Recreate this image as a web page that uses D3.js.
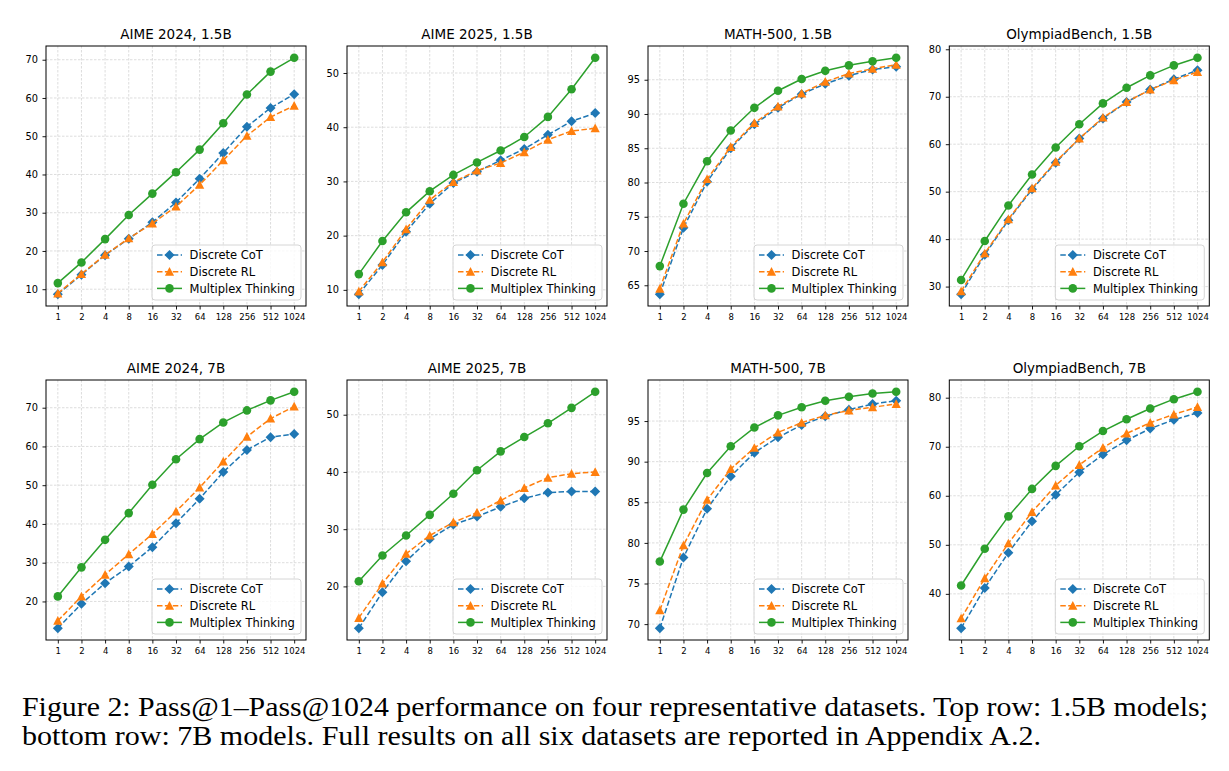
<!DOCTYPE html>
<html>
<head>
<meta charset="utf-8">
<script src="https://cdn.jsdelivr.net/npm/d3@7"></script>
<style>
body { margin: 0; background: #fff; }
svg text { font-family: "DejaVu Sans", sans-serif; fill: #000; }
</style>
</head>
<body>
<svg id="fig" width="1229" height="771"></svg>
<script>
// pass@k budgets on the x axis
const kLabels = ["1", "2", "4", "8", "16", "32", "64", "128", "256", "512", "1024"];
const methods = ["Discrete CoT", "Discrete RL", "Multiplex Thinking"];
const colors = ["#1f77b4", "#ff7f0e", "#2ca02c"];
const titles = ["AIME 2024, 1.5B", "AIME 2025, 1.5B", "MATH-500, 1.5B", "OlympiadBench, 1.5B",
                "AIME 2024, 7B", "AIME 2025, 7B", "MATH-500, 7B", "OlympiadBench, 7B"];

// top row, 1.5B
const aime24_15b_cot = [8.7, 13.8, 18.9, 23.2, 27.5, 32.7, 38.9, 45.6, 52.5, 57.4, 61.0];
const aime24_15b_rl  = [8.9, 14.0, 19.0, 23.3, 27.2, 31.6, 37.3, 43.7, 50.1, 55.0, 58.0];
const aime24_15b_mt  = [11.6, 17.0, 23.1, 29.4, 35.0, 40.6, 46.5, 53.4, 60.9, 66.9, 70.5];

const aime25_15b_cot = [9.2, 14.6, 20.7, 25.9, 29.7, 31.8, 33.9, 36.0, 38.6, 41.1, 42.6];
const aime25_15b_rl  = [9.7, 15.1, 21.2, 26.6, 29.9, 32.0, 33.4, 35.4, 37.7, 39.3, 39.8];
const aime25_15b_mt  = [12.9, 19.0, 24.3, 28.2, 31.2, 33.5, 35.7, 38.2, 41.9, 47.0, 52.8];

const math_15b_cot = [63.7, 73.4, 80.1, 85.0, 88.5, 90.9, 92.9, 94.4, 95.6, 96.5, 96.9];
const math_15b_rl  = [64.5, 74.0, 80.5, 85.2, 88.7, 91.1, 93.0, 94.7, 95.9, 96.6, 97.2];
const math_15b_mt  = [67.8, 76.9, 83.1, 87.6, 90.9, 93.4, 95.1, 96.3, 97.1, 97.7, 98.2];

const olym_15b_cot = [28.4, 36.7, 44.0, 50.5, 56.1, 61.2, 65.4, 68.9, 71.5, 73.7, 75.6];
const olym_15b_rl  = [29.0, 37.0, 44.2, 50.7, 56.3, 61.2, 65.6, 68.9, 71.5, 73.5, 75.2];
const olym_15b_mt  = [31.4, 39.6, 47.1, 53.6, 59.3, 64.2, 68.6, 71.9, 74.5, 76.6, 78.2];

// bottom row, 7B
const aime24_7b_cot = [13.1, 19.4, 24.7, 29.0, 34.0, 40.2, 46.5, 53.4, 59.1, 62.4, 63.2];
const aime24_7b_rl  = [15.0, 21.3, 26.9, 32.2, 37.4, 43.2, 49.4, 56.1, 62.5, 67.2, 70.3];
const aime24_7b_mt  = [21.3, 28.8, 35.9, 42.8, 50.1, 56.7, 61.9, 66.2, 69.3, 71.9, 74.1];

const aime25_7b_cot = [12.7, 19.0, 24.4, 28.3, 30.8, 32.2, 33.9, 35.4, 36.4, 36.6, 36.6];
const aime25_7b_rl  = [14.5, 20.5, 25.7, 28.9, 31.2, 32.9, 35.0, 37.2, 39.0, 39.7, 40.0];
const aime25_7b_mt  = [20.9, 25.4, 28.9, 32.5, 36.2, 40.3, 43.6, 46.1, 48.5, 51.2, 54.0];

const math_7b_cot = [69.5, 78.2, 84.2, 88.2, 91.1, 93.0, 94.5, 95.6, 96.4, 97.1, 97.5];
const math_7b_rl  = [71.7, 79.7, 85.3, 89.1, 91.7, 93.6, 94.8, 95.7, 96.3, 96.7, 97.1];
const math_7b_mt  = [77.7, 84.1, 88.6, 91.9, 94.2, 95.7, 96.7, 97.5, 98.0, 98.4, 98.6];

const olym_7b_cot = [33.0, 41.2, 48.4, 54.8, 60.2, 64.8, 68.4, 71.3, 73.7, 75.5, 76.9];
const olym_7b_rl  = [35.0, 43.2, 50.3, 56.7, 62.1, 66.3, 69.8, 72.7, 74.9, 76.6, 78.1];
const olym_7b_mt  = [41.7, 49.2, 55.8, 61.4, 66.1, 70.1, 73.2, 75.6, 77.8, 79.7, 81.2];

// y tick labels per panel
const yTicks = [
    [10, 20, 30, 40, 50, 60, 70],
    [10, 20, 30, 40, 50],
    [65, 70, 75, 80, 85, 90, 95],
    [30, 40, 50, 60, 70, 80],
    [20, 30, 40, 50, 60, 70],
    [20, 30, 40, 50],
    [70, 75, 80, 85, 90, 95],
    [40, 50, 60, 70, 80]
];

const captionLines = [
    "Figure 2: Pass@1\u2013Pass@1024 performance on four representative datasets. Top row: 1.5B models;",
    "bottom row: 7B models. Full results on all six datasets are reported in Appendix A.2."
];
const captionWidths = [1186, 1019];

const panels = [
    [aime24_15b_cot, aime24_15b_rl, aime24_15b_mt],
    [aime25_15b_cot, aime25_15b_rl, aime25_15b_mt],
    [math_15b_cot, math_15b_rl, math_15b_mt],
    [olym_15b_cot, olym_15b_rl, olym_15b_mt],
    [aime24_7b_cot, aime24_7b_rl, aime24_7b_mt],
    [aime25_7b_cot, aime25_7b_rl, aime25_7b_mt],
    [math_7b_cot, math_7b_rl, math_7b_mt],
    [olym_7b_cot, olym_7b_rl, olym_7b_mt]
];

const svg = d3.select('#fig');
const pw = 260, ph = 260;
const lefts = [46, 347, 648, 949.3];
const tops = [46, 380];

// matplotlib-like markers: D, ^, o
function markerPath(m) {
    if (m === 0) return 'M0,-5L5,0L0,5L-5,0Z';
    if (m === 1) return 'M0,-4.7L4.6,4L-4.6,4Z';
    return d3.symbol().type(d3.symbolCircle).size(58)();
}
const dashes = ['5.5,2.4', '5.5,2.4', null];

panels.forEach(function(series, i) {
    let col = i % 4, row = Math.floor(i / 4);
    let g = svg.append('g').attr('transform', 'translate(' + lefts[col] + ',' + tops[row] + ')');

    let x = d3.scalePoint().domain(kLabels).range([0, pw]).padding(0.5);
    let ext = d3.extent(d3.merge(series));
    let pad = (ext[1] - ext[0]) * 0.05;
    let y = d3.scaleLinear().domain([ext[0] - pad, ext[1] + pad]).range([ph, 0]);

    // grid
    g.append('g').selectAll('line').data(kLabels).join('line')
        .attr('x1', d => x(d)).attr('x2', d => x(d))
        .attr('y1', 0).attr('y2', ph)
        .attr('stroke', '#d4d4d4').attr('stroke-width', 0.8).attr('stroke-dasharray', '2.5,1.5');
    g.append('g').selectAll('line').data(yTicks[i]).join('line')
        .attr('y1', d => y(d)).attr('y2', d => y(d))
        .attr('x1', 0).attr('x2', pw)
        .attr('stroke', '#d4d4d4').attr('stroke-width', 0.8).attr('stroke-dasharray', '2.5,1.5');

    // axes
    let xa = g.append('g').attr('transform', 'translate(0,' + ph + ')')
        .call(d3.axisBottom(x).tickSize(3.5).tickSizeOuter(0).tickPadding(4));
    xa.selectAll('text').style('font-size', '8.5px');
    let ya = g.append('g')
        .call(d3.axisLeft(y).tickValues(yTicks[i]).tickSize(3.5).tickSizeOuter(0).tickPadding(4.5));
    ya.selectAll('text').style('font-size', '9.8px');
    g.selectAll('.domain').remove();
    g.selectAll('.tick line').attr('stroke', '#000').attr('stroke-width', 0.9);

    // series
    series.forEach(function(vals, s) {
        let line = d3.line()
            .x(function(d, j) { return x(kLabels[j]); })
            .y(function(d) { return y(d); });
        g.append('path').datum(vals)
            .attr('d', line)
            .attr('fill', 'none')
            .attr('stroke', colors[s])
            .attr('stroke-width', 1.5)
            .attr('stroke-dasharray', dashes[s]);
        g.append('g').selectAll('path').data(vals).join('path')
            .attr('d', markerPath(s))
            .attr('transform', function(d, j) { return 'translate(' + x(kLabels[j]) + ',' + y(d) + ')'; })
            .attr('fill', colors[s]);
    });

    // frame
    g.append('rect').attr('width', pw).attr('height', ph)
        .attr('fill', 'none').attr('stroke', '#000').attr('stroke-width', 1);

    // title
    g.append('text').attr('x', pw / 2).attr('y', -7)
        .attr('text-anchor', 'middle').style('font-size', '13.5px').text(titles[i]);

    // legend
    let lg = g.append('g').attr('transform', 'translate(' + (pw - 154) + ',' + (ph - 61) + ')');
    lg.append('rect').attr('width', 149).attr('height', 55).attr('rx', 3)
        .attr('fill', '#fff').attr('fill-opacity', 0.8)
        .attr('stroke', '#cccccc').attr('stroke-width', 0.8);
    methods.forEach(function(m, s) {
        let ry = 10 + s * 16.7;
        lg.append('line').attr('x1', 5).attr('x2', 30).attr('y1', ry).attr('y2', ry)
            .attr('stroke', colors[s]).attr('stroke-width', 1.5)
            .attr('stroke-dasharray', dashes[s]);
        lg.append('path').attr('d', markerPath(s))
            .attr('transform', 'translate(17.5,' + ry + ')').attr('fill', colors[s]);
        lg.append('text').attr('x', 37.6).attr('y', ry).attr('dy', '0.36em')
            .style('font-size', '11.5px').text(m);
    });
});

// caption
svg.selectAll('text.caption').data(captionLines).join('text')
    .attr('class', 'caption')
    .attr('x', 22)
    .attr('y', (d, i) => 716 + i * 28.5)
    .attr('textLength', (d, i) => captionWidths[i])
    .attr('lengthAdjust', 'spacingAndGlyphs')
    .style('font-family', '"Liberation Serif", "Times New Roman", serif')
    .style('font-size', '28px')
    .text(d => d);
</script>
</body>
</html>
